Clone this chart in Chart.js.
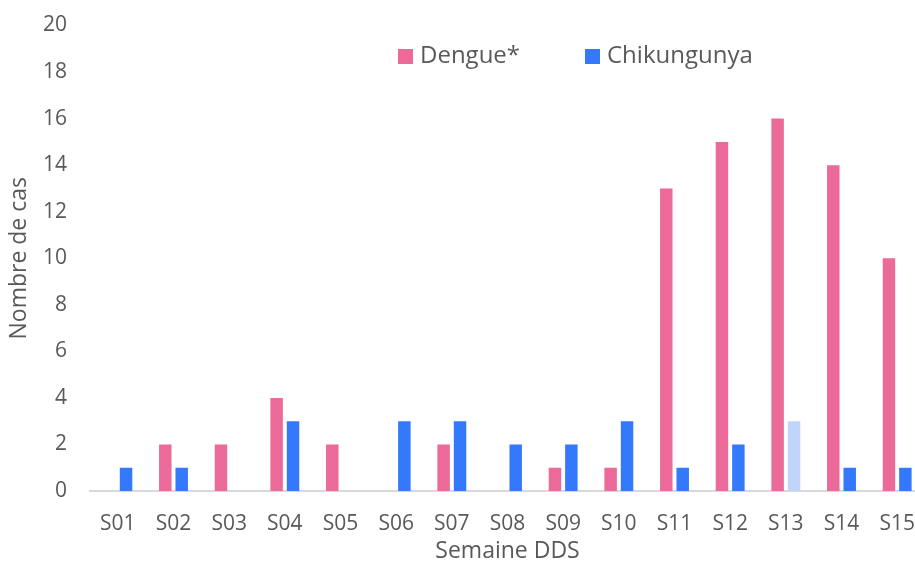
<!DOCTYPE html>
<html>
<head>
<meta charset="utf-8">
<script src="https://cdn.jsdelivr.net/npm/chart.js@4/dist/chart.umd.min.js"></script>
<style>
html,body{margin:0;padding:0;background:#fff;overflow:hidden;width:915px;height:563px;}
canvas{display:block;}
</style>
</head>
<body>
<canvas id="c" width="930" height="563"></canvas>
<script>
const categories = ["S01","S02","S03","S04","S05","S06","S07","S08","S09","S10","S11","S12","S13","S14","S15"];
const dengue = [0,2,2,4,2,0,2,0,1,1,13,15,16,14,10];
const chikungunya = [1,1,0,3,0,3,3,2,2,3,1,2,3,1,1];
const yTicks = [0,2,4,6,8,10,12,14,16,18,20];

const PINK = "#EC6A9A";
const BLUE = "#3479FB";
const LIGHTBLUE = "#C1D5FB";
const chikColors = categories.map(c => c === "S13" ? LIGHTBLUE : BLUE);
const FONT = "'Open Sans', sans-serif";
const TXT = "#595959";

const legendPlugin = {
  id: 'customLegend',
  afterDraw(chart) {
    const ctx = chart.ctx;
    const items = [
      {label: chart.data.datasets[0].label, color: PINK, x: 398},
      {label: chart.data.datasets[1].label, color: BLUE, x: 585}
    ];
    ctx.save();
    ctx.font = "24px " + FONT;
    ctx.textBaseline = "middle";
    items.forEach(it => {
      ctx.fillStyle = it.color;
      ctx.fillRect(it.x, 49, 15, 15);
      ctx.fillStyle = TXT;
      ctx.fillText(it.label, it.x + 22, 56);
    });
    ctx.restore();
  }
};

new Chart(document.getElementById('c'), {
  type: 'bar',
  data: {
    labels: categories,
    datasets: [
      {label: "Dengue*", data: dengue, backgroundColor: PINK, categoryPercentage: 0.59, barPercentage: 0.76},
      {label: "Chikungunya", data: chikungunya, backgroundColor: chikColors, categoryPercentage: 0.59, barPercentage: 0.76}
    ]
  },
  options: {
    responsive: false,
    animation: false,
    layout: {padding: {top: 16, right: 2, left: 0, bottom: 0}},
    plugins: {legend: {display: false}, tooltip: {enabled: false}},
    scales: {
      x: {
        afterFit(scale) { scale.height = 72; },
        grid: {display: false},
        border: {display: true, color: "#D9D9D9", width: 2},
        ticks: {color: TXT, font: {family: FONT, size: 21, lineHeight: 1}, padding: 15},
        title: {display: true, text: "Semaine DDS", color: TXT, font: {family: FONT, size: 23, lineHeight: 1}, padding: {top: 6, bottom: 0}}
      },
      y: {
        min: 0, max: 20,
        afterFit(scale) { scale.width = 90; },
        afterBuildTicks(scale) { scale.ticks = yTicks.map(v => ({value: v})); },
        grid: {display: false},
        border: {display: false},
        ticks: {color: TXT, font: {family: FONT, size: 21, lineHeight: 1}, padding: 15},
        title: {display: true, text: "Nombre de cas", color: TXT, font: {family: FONT, size: 23, lineHeight: 1}, padding: {top: 8, bottom: 12}}
      }
    }
  },
  plugins: [legendPlugin]
});
</script>
</body>
</html>
